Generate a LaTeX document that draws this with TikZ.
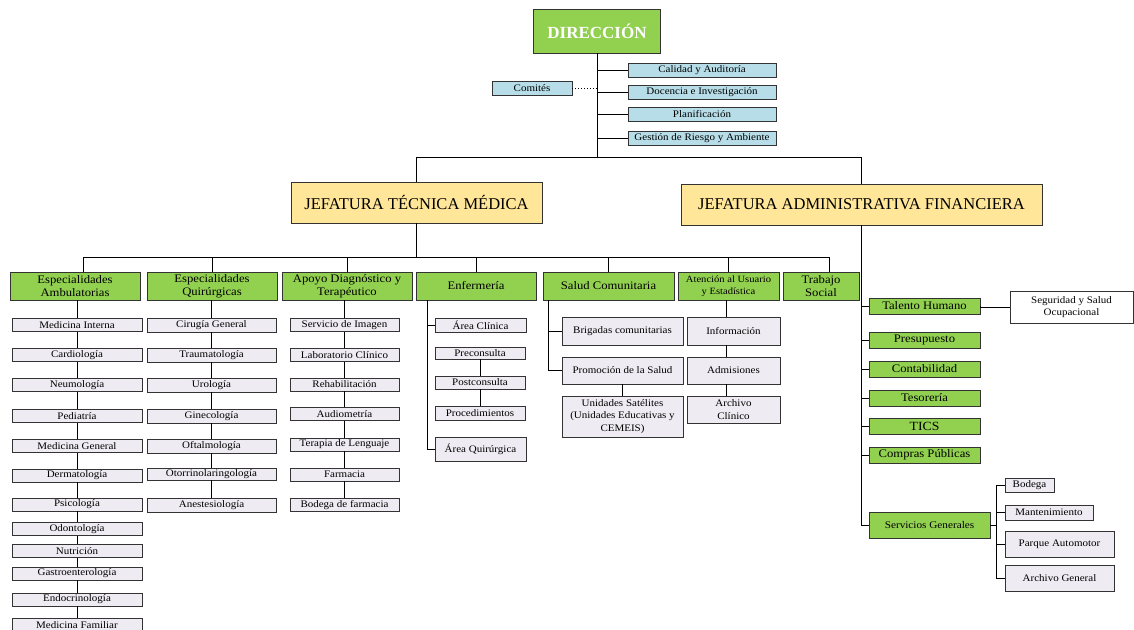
\documentclass[tikz,border=0pt]{standalone}
\usepackage{fontspec}
\setmainfont{Liberation Serif}
\newfontfamily\wf[FakeStretch=1.1]{Liberation Serif}
\definecolor{grn}{HTML}{92D050}
\definecolor{yel}{HTML}{FFE699}
\definecolor{lbl}{HTML}{B7DEE8}
\definecolor{lav}{HTML}{EEECF2}
\begin{document}
\begin{tikzpicture}[x=1pt,y=-1pt,
 bx/.style={draw=black!80,line width=0.9pt,inner sep=0pt,align=center},
 sz/.style 2 args={minimum width=#1pt,minimum height=#2pt},
 greenbox/.style={bx,fill=grn,font=\wf\fontsize{11.5}{13.5}\selectfont},
 lavbox/.style={bx,fill=lav,font=\wf\fontsize{10}{12.8}\selectfont},
 bluebox/.style={bx,fill=lbl,font=\wf\fontsize{10}{11}\selectfont},
 yellowbox/.style={bx,fill=yel,font=\fontsize{16.5}{19}\selectfont},
 conn/.style={line width=0.9pt,black}]
\useasboundingbox (0,0) rectangle (1134,629);

% top
\node[bx,fill=grn,sz={127}{44},text=white,font=\bfseries\fontsize{17}{20}\selectfont] (dir) at (597,31) {DIRECCIÓN};
\node[bluebox,sz={148}{14}] (cal) at (702,70) {Calidad y Auditoría};
\node[bluebox,sz={148}{14}] (doc) at (702,92.5) {Docencia e Investigación};
\node[bluebox,sz={148}{14}] (pla) at (702,114.5) {Planificación};
\node[bluebox,sz={148}{14}] (ges) at (702,138) {Gestión de Riesgo y Ambiente};
\node[bluebox,sz={80}{14}] (com) at (532,88) {Comités};

\coordinate (b1) at (597,157);
\draw[conn] (dir.south) -- (b1);
\foreach \n in {cal,doc,pla,ges} \draw[conn] (\n.west) -- (\n.west -| dir.south);
\draw[conn,dotted] (com.east) -- (com.east -| dir.south);

% jefaturas
\node[yellowbox,sz={251}{41}] (jtm) at (416.5,202.5) {JEFATURA TÉCNICA MÉDICA};
\node[yellowbox,sz={361}{41}] (jaf) at (861.5,204.5) {JEFATURA ADMINISTRATIVA FINANCIERA};
\draw[conn] (jtm.north) -- (jtm.north |- b1) -- (jaf.north |- b1) -- (jaf.north);

% departments
\node[greenbox,sz={130}{28}] (ea) at (75,286) {Especialidades\\Ambulatorias};
\node[greenbox,sz={130}{28}] (eq) at (212,286) {Especialidades\\Quirúrgicas};
\node[greenbox,sz={130}{28}] (ad) at (347,286) {Apoyo Diagnóstico y\\Terapéutico};
\node[greenbox,sz={120}{28}] (en) at (476,286) {Enfermería};
\node[greenbox,sz={131}{28}] (sc) at (608.5,286) {Salud Comunitaria};
\node[greenbox,sz={101}{28},font=\wf\fontsize{9.6}{12}\selectfont] (au) at (728.5,286) {Atención al Usuario\\y Estadística};
\node[greenbox,sz={76}{28}] (ts) at (821,286) {Trabajo\\Social};

\coordinate (b2) at (416.5,257);
\draw[conn] (jtm.south) -- (b2);
\draw[conn] ([xshift=8pt]ea.north) -- ([xshift=8pt]ea.north |- b2) -- ([xshift=8pt]ts.north |- b2) -- ([xshift=8pt]ts.north);
\foreach \n in {eq,ad,en,sc,au} \draw[conn] (\n.north) -- (\n.north |- b2);

% column 1
\foreach \n/\y/\t in {a/325/Medicina Interna,b/355/Cardiología,c/385/Neumología,d/416/Pediatría,e/446/Medicina General,f/475.5/Dermatología,g/504.5/Psicología,h/529/Odontología,i/551/Nutrición,j/573.5/Gastroenterología,k/599.5/Endocrinología,l/625/Medicina Familiar}
  \node[lavbox,sz={130}{13}] (c1\n) at (77,\y) {\t};
\draw[conn] (ea.south -| c1a.north) -- (c1a.north);
\foreach \p/\q in {a/b,b/c,c/d,d/e,e/f,f/g,g/h,h/i,i/j,j/k,k/l} \draw[conn] (c1\p.south) -- (c1\q.north);

% column 2
\foreach \n/\y/\h/\t in {a/325/14/Cirugía General,b/355/14/Traumatología,c/385/14/Urología,d/416/14/Ginecología,e/446/14/Oftalmología,f/474/12/Otorrinolaringología,g/505.5/14/Anestesiología}
  \node[lavbox,sz={129}{\h}] (c2\n) at (211.5,\y) {\t};
\draw[conn] (eq.south -| c2a.north) -- (c2a.north);
\foreach \p/\q in {a/b,b/c,c/d,d/e,e/f,f/g} \draw[conn] (c2\p.south) -- (c2\q.north);

% column 3
\foreach \n/\y/\t in {a/325/Servicio de Imagen,b/355/Laboratorio Clínico,c/384.5/Rehabilitación,d/414/Audiometría,e/444.5/Terapia de Lenguaje,f/474.5/Farmacia,g/505/Bodega de farmacia}
  \node[lavbox,sz={109}{13}] (c3\n) at (344.5,\y) {\t};
\draw[conn] (ad.south -| c3a.north) -- (c3a.north);
\foreach \p/\q in {a/b,b/c,c/d,d/e,e/f,f/g} \draw[conn] (c3\p.south) -- (c3\q.north);

% enfermeria
\node[lavbox,sz={91}{14}] (ac) at (480.5,325) {Área Clínica};
\node[lavbox,sz={90}{12}] (pre) at (480,353) {Preconsulta};
\node[lavbox,sz={90}{13}] (pos) at (480,382.5) {Postconsulta};
\node[lavbox,sz={90}{14}] (prc) at (480,413) {Procedimientos};
\node[lavbox,sz={91}{24}] (aq) at (480.5,449) {Área Quirúrgica};
\draw[conn] ([xshift=-49pt]en.south) coordinate (ent) |- (aq.west);
\draw[conn] (ac.west) -- (ac.west -| ent);
\draw[conn] (pre.south) -- (pos.north);
\draw[conn] (pos.south) -- (prc.north);

% salud comunitaria
\node[lavbox,sz={121}{28}] (bri) at (622.5,331) {Brigadas comunitarias};
\node[lavbox,sz={121}{41}] (uni) at (622.5,416.5) {Unidades Satélites\\(Unidades Educativas y\\CEMEIS)};
\node[lavbox,sz={121}{27}] (pro) at (622.5,370.5) {Promoción de la Salud};
\draw[conn] ([xshift=-60.5pt]sc.south) coordinate (sct) |- (pro.west);
\draw[conn] (bri.west) -- (bri.west -| sct);
\draw[conn] (pro.south) -- (uni.north);

% atencion
\node[lavbox,sz={93}{28}] (inf) at (733.5,331) {Información};
\node[lavbox,sz={93}{27}] (adm) at (733.5,370.5) {Admisiones};
\node[lavbox,sz={93}{27}] (arc) at (733.5,409.5) {Archivo\\Clínico};
\draw[conn] ([xshift=-2.5pt]au.south) coordinate (aut) -- (aut |- inf.north);
\draw[conn] (inf.south -| aut) -- (adm.north -| aut);
\draw[conn] (adm.south -| aut) -- (arc.north -| aut);

% right column
\foreach \n/\y/\t in {th/306/Talento Humano,pp/340/Presupuesto,co/369/Contabilidad,te/398/Tesorería,cp/455/Compras Públicas}
  \node[greenbox,sz={111}{16}] (\n) at (924.5,\y) {\t};
\node[greenbox,sz={111}{16},font=\wf\fontsize{12.5}{14}\selectfont] (tic) at (924.5,426) {TICS};
\node[greenbox,sz={121}{26},font=\wf\fontsize{10.2}{12}\selectfont] (sg) at (929.5,525) {Servicios Generales};
\node[bx,fill=white,sz={123}{32},font=\wf\fontsize{10}{12.8}\selectfont] (ssl) at (1071.5,307) {Seguridad y Salud\\Ocupacional};
\draw[conn] (jaf.south) |- (sg.west);
\foreach \n in {th,pp,co,te,tic,cp} \draw[conn] (\n.west) -- (\n.west -| jaf.south);
\draw[conn] (th.east) -- (th.east |- ssl.west) -- (ssl.west);

% servicios generales
\node[lavbox,sz={49}{14}] (bod) at (1029.5,485) {Bodega};
\node[lavbox,sz={88}{15}] (man) at (1049,512.5) {Mantenimiento};
\node[lavbox,sz={109}{26}] (pa) at (1059.5,544) {Parque Automotor};
\node[lavbox,sz={109}{26}] (ag) at (1059.5,578) {Archivo General};
\draw[conn] (bod.west) -- ++(-8,0) coordinate (sgt) |- (ag.west);
\draw[conn] (man.west) -- (man.west -| sgt);
\draw[conn] (pa.west) -- (pa.west -| sgt);
\draw[conn] (sg.east) -- (sg.east -| sgt);
\end{tikzpicture}
\end{document}
